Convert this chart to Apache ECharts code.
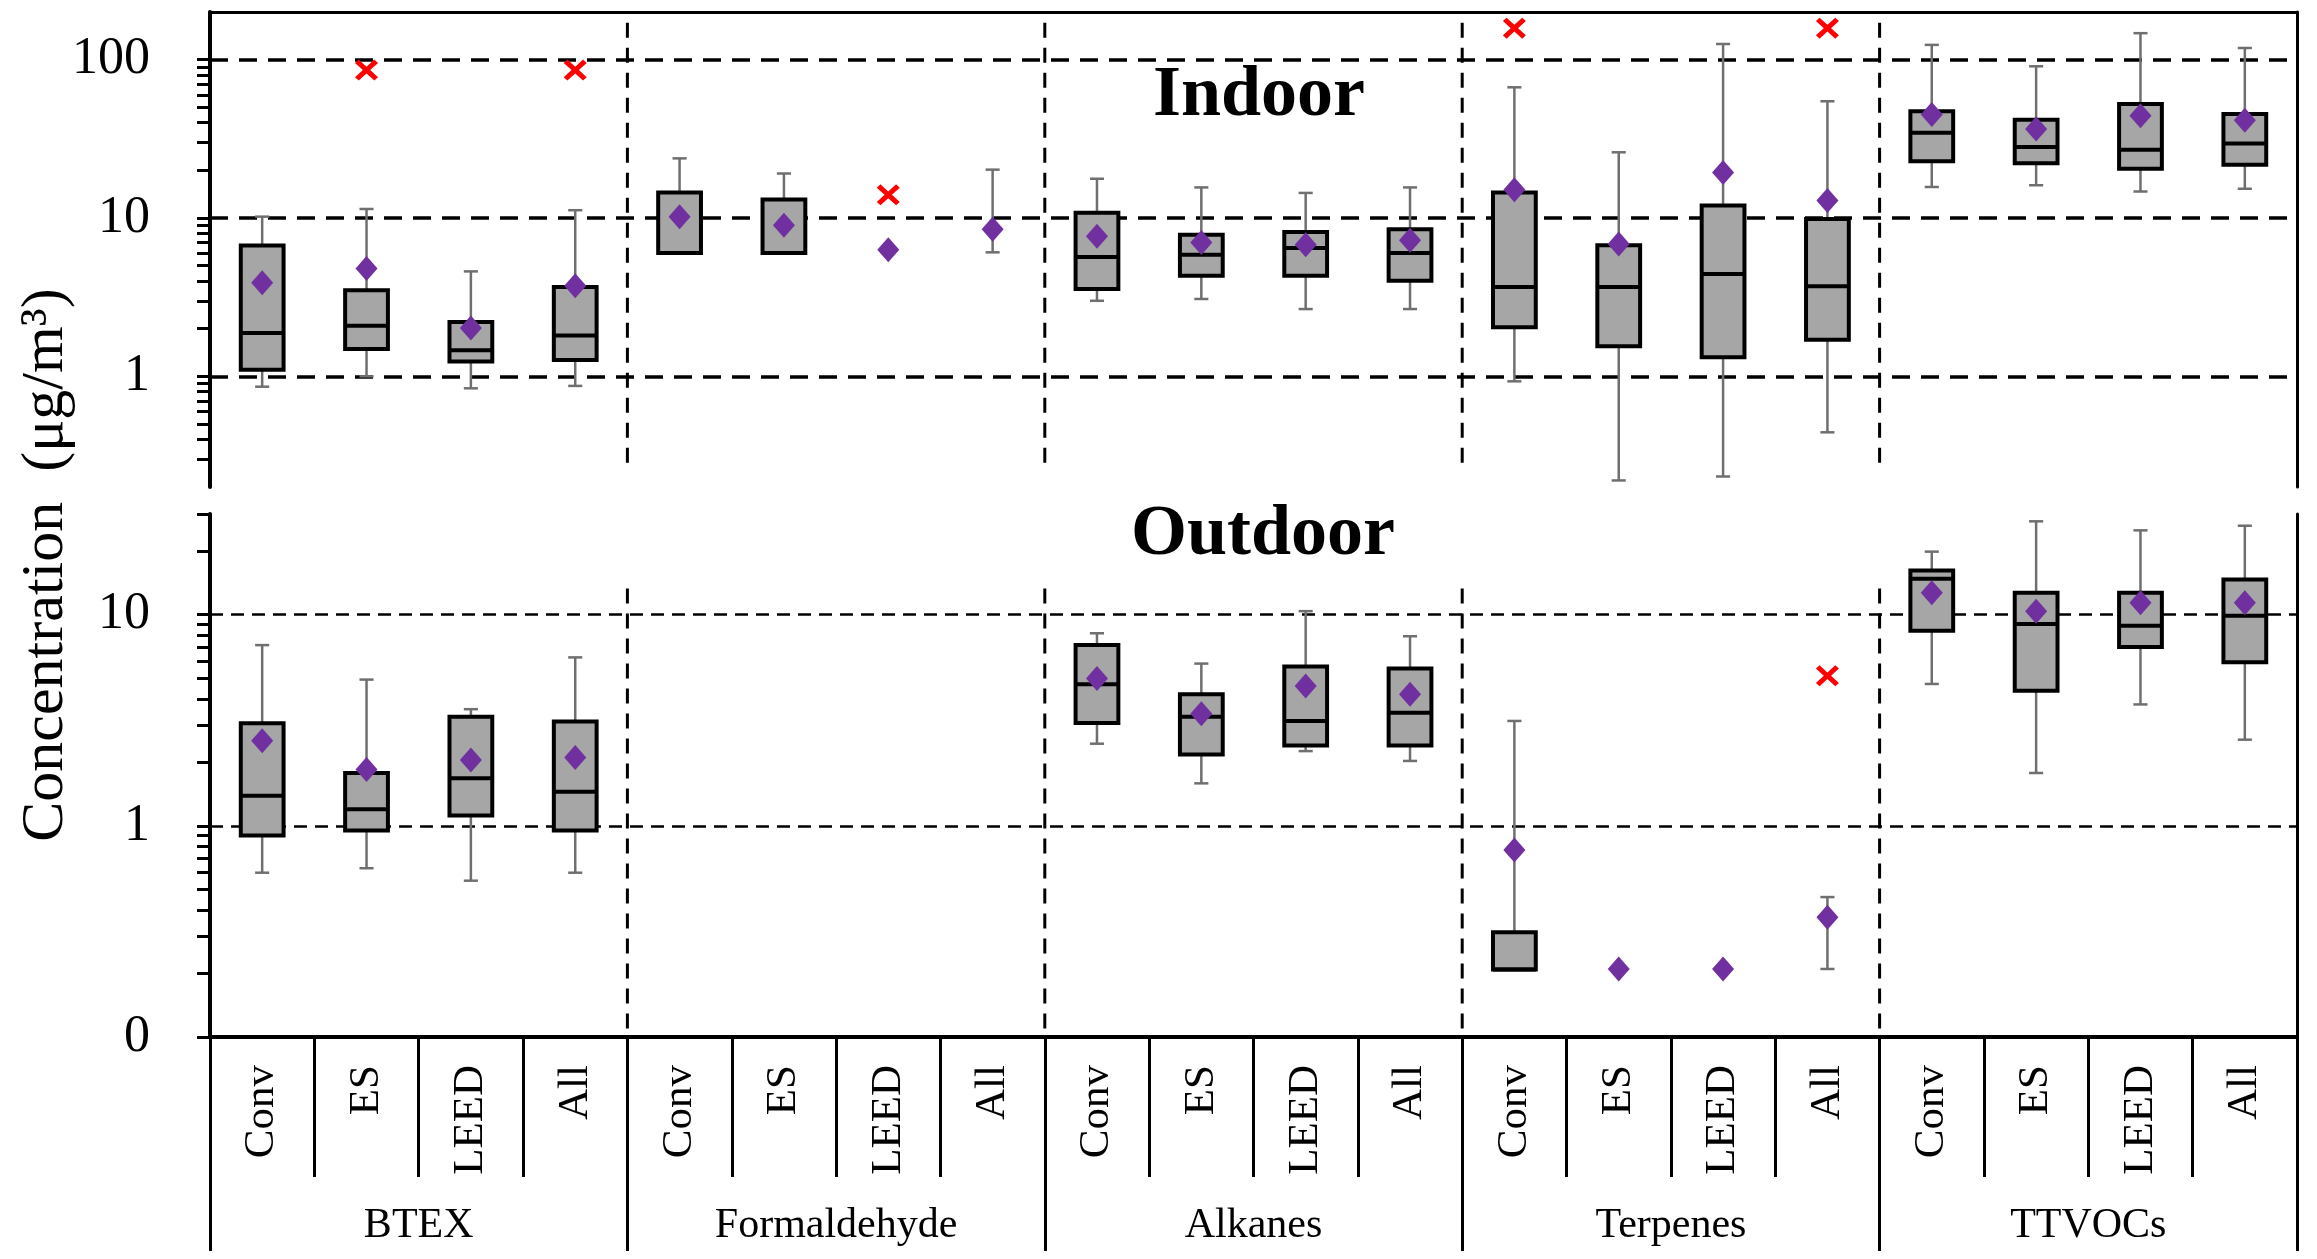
<!DOCTYPE html>
<html>
<head>
<meta charset="utf-8">
<title>VOC concentrations, indoor and outdoor</title>
<script src="https://cdn.jsdelivr.net/npm/echarts@6/dist/echarts.min.js"></script>
<style>
  html, body { margin: 0; padding: 0; background: #fff; }
  #chart { width: 2317px; height: 1259px; }
</style>
</head>
<body>
<div id="chart"></div>
<script>
// Building types within each compound group
const buildingTypes = ['Conv', 'ES', 'LEED', 'All'];
const groups = ['BTEX', 'Formaldehyde', 'Alkanes', 'Terpenes', 'TTVOCs'];

// Box statistics per category: [min, q1, median, q3, max] (null = not drawn)
const indoorBoxes = [
  [0.86, 1.10, 1.88, 6.70, 10.2],
  [1.00, 1.49, 2.09, 3.50, 11.4],
  [0.84, 1.24, 1.46, 2.20, 4.6],
  [0.87, 1.27, 1.81, 3.67, 11.2],
  [6.0, 6.0, 6.0, 14.5, 23.8],
  [6.0, 6.0, 6.0, 13.1, 19.1],
  [null, null, null, null, null],
  [6.07, null, null, null, 20.2],
  [3.00, 3.56, 5.67, 10.8, 17.7],
  [3.08, 4.32, 5.87, 7.85, 15.6],
  [2.66, 4.32, 6.46, 8.16, 14.4],
  [2.66, 4.02, 6.00, 8.50, 15.6],
  [0.93, 2.04, 3.67, 14.5, 66.9],
  [0.22, 1.55, 3.67, 6.72, 26.0],
  [0.233, 1.32, 4.43, 12.0, 125.6],
  [0.443, 1.70, 3.70, 9.86, 54.6],
  [15.7, 22.8, 34.5, 47.2, 124],
  [16.1, 22.2, 28.1, 41.8, 90.8],
  [14.7, 20.5, 27.0, 52.5, 147],
  [15.3, 21.7, 29.5, 45.4, 118.5]
];
const indoorMeans = [3.9, 4.8, 2.02, 3.74, 10.2, 9.0, 6.3, 8.5, 7.66, 7.0, 6.78, 7.23,
  15.1, 6.85, 19.4, 12.9, 45, 36.5, 44.3, 41.4];
// [category index, value]
const indoorOutliers = [[1, 86], [3, 86], [6, 14.0], [12, 158], [15, 158]];

const outdoorBoxes = [
  [0.60, 0.90, 1.39, 3.06, 7.18],
  [0.63, 0.95, 1.20, 1.78, 4.93],
  [0.55, 1.12, 1.68, 3.29, 3.57],
  [0.60, 0.95, 1.45, 3.12, 6.28],
  [null, null, null, null, null],
  [null, null, null, null, null],
  [null, null, null, null, null],
  [null, null, null, null, null],
  [2.45, 3.07, 4.68, 7.18, 8.17],
  [1.59, 2.18, 3.29, 4.20, 5.87],
  [2.26, 2.40, 3.14, 5.68, 10.4],
  [2.03, 2.40, 3.43, 5.57, 7.91],
  [0.209, 0.209, 0.209, 0.313, 3.14],
  [null, null, null, null, null],
  [null, null, null, null, null],
  [0.21, null, null, null, 0.46],
  [4.7, 8.4, 14.8, 16.2, 19.9],
  [1.78, 4.37, 9.04, 12.7, 27.7],
  [3.76, 7.03, 8.86, 12.7, 25.1],
  [2.56, 5.96, 9.88, 14.7, 26.4]
];
const outdoorMeans = [2.53, 1.85, 2.05, 2.11, null, null, null, null, 4.99, 3.4, 4.6, 4.2,
  0.769, 0.21, 0.21, 0.369, 12.7, 10.4, 11.4, 11.4];
const outdoorOutliers = [[15, 5.14]];

// Axis ticks and labels
const indoorTicks = [0.3, 0.4, 0.5, 0.6, 0.7, 0.8, 0.9, 1, 2, 3, 4, 5, 6, 7, 8, 9,
  10, 20, 30, 40, 50, 60, 70, 80, 90, 100];
const indoorLabels = [1, 10, 100];
const outdoorTicks = [0.1, 0.2, 0.3, 0.4, 0.5, 0.6, 0.7, 0.8, 0.9, 1, 2, 3, 4, 5, 6, 7, 8, 9,
  10, 20, 30];
const outdoorLabels = [0.1, 1, 10];

const FONT = "'Liberation Serif', 'Times New Roman', serif";
const categories = [];
groups.forEach(() => buildingTypes.forEach(b => categories.push(b)));

function boxRows(boxes) {
  return boxes.map((b, i) => [i].concat(b));
}
function pointRows(values) {
  const rows = [];
  values.forEach((v, i) => { if (v != null) rows.push([i, v]); });
  return rows;
}
const separatorRows = groups.slice(1).map((g, i) => [(i + 1) * buildingTypes.length, 1]);

function has(v) {
  return v != null && !isNaN(v);
}

function renderBox(params, api) {
  const idx = api.value(0);
  const low = api.value(1), q1 = api.value(2), med = api.value(3), q3 = api.value(4), high = api.value(5);
  const band = api.coord([1, 1])[0] - api.coord([0, 1])[0];
  const x = api.coord([idx, 1])[0];
  const y = v => api.coord([idx, v])[1];
  const boxW = band * 0.41;
  const capW = band * 0.135;
  const whisker = { stroke: '#6f6f6f', lineWidth: 2.5 };
  const kids = [];
  const vline = (a, b) => kids.push({ type: 'line', shape: { x1: x, y1: y(a), x2: x, y2: y(b) }, style: whisker });
  const cap = v => kids.push({ type: 'line', shape: { x1: x - capW / 2, y1: y(v), x2: x + capW / 2, y2: y(v) }, style: whisker });

  if (has(q1) && has(q3)) {
    if (has(high) && high > q3) { vline(q3, high); cap(high); }
    if (has(low) && low < q1) { vline(low, q1); cap(low); }
    kids.push({
      type: 'rect',
      shape: { x: x - boxW / 2, y: y(q3), width: boxW, height: y(q1) - y(q3) },
      style: { fill: '#a6a6a6', stroke: '#000', lineWidth: 4 }
    });
    if (has(med)) {
      kids.push({
        type: 'line',
        shape: { x1: x - boxW / 2, y1: y(med), x2: x + boxW / 2, y2: y(med) },
        style: { stroke: '#000', lineWidth: 4 }
      });
    }
  } else if (has(low) && has(high)) {
    vline(low, high); cap(low); cap(high);
  }
  return { type: 'group', children: kids };
}

// dashed vertical lines between compound groups
function separatorRenderer(topValue, bottomValue) {
  return function (params, api) {
    const idx = api.value(0);
    const half = (api.coord([1, 1])[0] - api.coord([0, 1])[0]) / 2;
    const x = api.coord([idx, 1])[0] - half;
    return {
      type: 'line',
      shape: { x1: x, y1: api.coord([idx, topValue])[1], x2: x, y2: api.coord([idx, bottomValue])[1] },
      style: { stroke: '#000', lineWidth: 3, lineDash: [15, 10] }
    };
  };
}

function gridLines(values, width, dash) {
  return {
    silent: true,
    symbol: 'none',
    z: 1,
    label: { show: false },
    lineStyle: { color: '#000', width: width, type: dash },
    data: values.map(v => ({ yAxis: v }))
  };
}

const xSymbol = 'path://M0,1.6L1.6,0L5,3.4L8.4,0L10,1.6L6.6,5L10,8.4L8.4,10L5,6.6L1.6,10L0,8.4L3.4,5Z';

function panelSeries(xIdx, yIdx, boxes, means, outliers, sepTop, sepBottom, lineValues, lineWidth, dash) {
  return [
    {
      type: 'custom',
      xAxisIndex: xIdx,
      yAxisIndex: yIdx,
      renderItem: separatorRenderer(sepTop, sepBottom),
      encode: { x: 0, y: 1 },
      data: separatorRows,
      silent: true,
      z: 1
    },
    {
      type: 'custom',
      xAxisIndex: xIdx,
      yAxisIndex: yIdx,
      renderItem: renderBox,
      dimensions: ['idx', 'min', 'q1', 'median', 'q3', 'max'],
      encode: { x: 0, y: [1, 2, 3, 4, 5] },
      data: boxRows(boxes),
      z: 3
    },
    {
      type: 'scatter',
      xAxisIndex: xIdx,
      yAxisIndex: yIdx,
      symbol: 'diamond',
      symbolSize: [22, 25],
      itemStyle: { color: '#7030a0', opacity: 1 },
      data: pointRows(means),
      markLine: gridLines(lineValues, lineWidth, dash),
      z: 4
    },
    {
      type: 'scatter',
      xAxisIndex: xIdx,
      yAxisIndex: yIdx,
      symbol: xSymbol,
      symbolSize: [23, 21],
      itemStyle: { color: '#ff0000', opacity: 1 },
      data: outliers,
      z: 4
    }
  ];
}

function leftLogAxis(gridIndex, min, max, ticks, labels, formatter) {
  return {
    gridIndex: gridIndex,
    type: 'log',
    logBase: 10,
    min: min,
    max: max,
    position: 'left',
    axisLine: { show: true, lineStyle: { color: '#000', width: 4 } },
    axisTick: { show: true, length: 13, customValues: ticks, lineStyle: { color: '#000', width: 3 } },
    axisLabel: { show: true, customValues: labels, margin: 60, color: '#000', fontFamily: FONT, fontSize: 52, formatter: formatter },
    splitLine: { show: false },
    minorTick: { show: false }
  };
}

function rightBorderAxis(gridIndex, min, max) {
  return {
    gridIndex: gridIndex,
    type: 'log',
    min: min,
    max: max,
    position: 'right',
    axisLine: { show: true, lineStyle: { color: '#000', width: 3 } },
    axisTick: { show: false },
    axisLabel: { show: false },
    splitLine: { show: false }
  };
}

const chart = echarts.init(document.getElementById('chart'));

chart.setOption({
  animation: false,
  backgroundColor: '#fff',
  grid: [
    { left: 210, top: 12, width: 2087, height: 475, outerBoundsMode: 'none' },
    { left: 210, top: 514, width: 2087, height: 523, outerBoundsMode: 'none' }
  ],
  xAxis: [
    {
      gridIndex: 0, type: 'category', data: categories, position: 'top',
      axisLine: { show: true, onZero: false, lineStyle: { color: '#000', width: 3 } },
      axisTick: { show: false }, axisLabel: { show: false }, splitLine: { show: false }
    },
    {
      gridIndex: 1, type: 'category', data: categories, position: 'bottom',
      axisLine: { show: true, onZero: false, lineStyle: { color: '#000', width: 4 } },
      axisTick: { show: true, interval: 0, length: 140, lineStyle: { color: '#000', width: 3 } },
      axisLabel: { interval: 0, rotate: 90, margin: 28, color: '#000', fontFamily: FONT, fontSize: 43 },
      splitLine: { show: false }
    },
    {
      gridIndex: 1, type: 'category', data: groups, position: 'bottom',
      axisLine: { show: false, onZero: false },
      axisTick: { show: true, interval: 0, length: 214, lineStyle: { color: '#000', width: 3 } },
      axisLabel: { interval: 0, margin: 168, color: '#000', fontFamily: FONT, fontSize: 42 },
      splitLine: { show: false }
    }
  ],
  yAxis: [
    leftLogAxis(0, 0.2, 200, indoorTicks, indoorLabels, v => String(v)),
    rightBorderAxis(0, 0.2, 200),
    leftLogAxis(1, 0.1, 30, outdoorTicks, outdoorLabels, v => (v < 0.5 ? '0' : String(v))),
    rightBorderAxis(1, 0.1, 30)
  ],
  graphic: [
    {
      type: 'text', x: 1259, y: 96, silent: true,
      style: { text: 'Indoor', font: 'bold 72px ' + FONT, fill: '#000', textAlign: 'center', textVerticalAlign: 'middle' }
    },
    {
      type: 'text', x: 1263, y: 535, silent: true,
      style: { text: 'Outdoor', font: 'bold 72px ' + FONT, fill: '#000', textAlign: 'center', textVerticalAlign: 'middle' }
    },
    {
      type: 'text', x: 46, y: 565, rotation: Math.PI / 2, silent: true,
      style: { text: 'Concentration  (μg/m³)', font: '60px ' + FONT, fill: '#000', textAlign: 'center', textVerticalAlign: 'middle' }
    }
  ],
  series: []
    .concat(panelSeries(0, 0, indoorBoxes, indoorMeans, indoorOutliers,
      171, 0.27, [1, 10, 100], 3.5, [18, 11]))
    .concat(panelSeries(1, 2, outdoorBoxes, outdoorMeans, outdoorOutliers,
      13.3, 0.1, [1, 10], 2.5, [13, 8]))
});

window.addEventListener('resize', () => chart.resize());
</script>
</body>
</html>
